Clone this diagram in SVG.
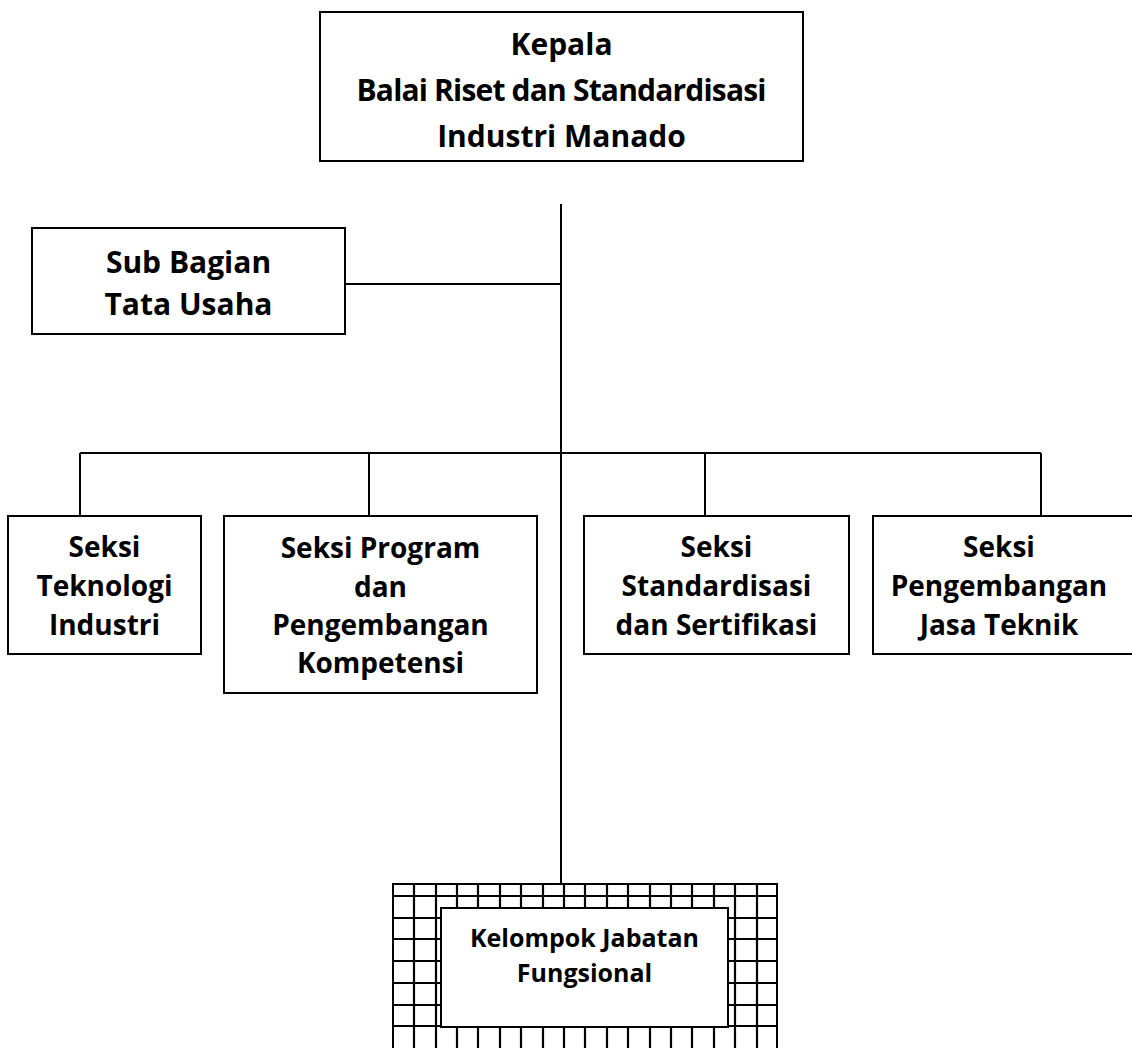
<svg xmlns="http://www.w3.org/2000/svg" width="1132" height="1048" viewBox="0 0 1132 1048">
<style>
.box{fill:#fff;stroke:#000;stroke-width:2}
.conn{fill:none;stroke:#000;stroke-width:2}
.grid{fill:none;stroke:#000;stroke-width:2.2}
text{font-family:"Open Sans","Noto Sans","DejaVu Sans",sans-serif;font-weight:bold;text-anchor:middle;fill:#000}
.t30{font-size:30px}
.t28{font-size:28px}
.t25{font-size:25px}
</style>
<g id="connectors">
<path class="conn" d="M561 204V884"/>
<path class="conn" d="M345 284H561"/>
<path class="conn" d="M80 453H1041"/>
<path class="conn" d="M80 453V516M369 453V516M705 453V516M1041 453V516"/>
</g>
<g id="kepala">
<rect class="box" x="320" y="12" width="483" height="149"/>
<text class="t30" x="561.5" y="55">Kepala</text>
<text class="t30" x="561.5" y="101" textLength="410">Balai Riset dan Standardisasi</text>
<text class="t30" x="561.5" y="147">Industri Manado</text>
</g>
<g id="subbagian">
<rect class="box" x="32" y="228" width="313" height="106"/>
<text class="t30" x="188.5" y="273">Sub Bagian</text>
<text class="t30" x="188.5" y="315">Tata Usaha</text>
</g>
<g id="seksi-teknologi">
<rect class="box" x="8" y="516" width="193" height="138"/>
<text class="t28" x="104.5" y="557">Seksi</text>
<text class="t28" x="104.5" y="596">Teknologi</text>
<text class="t28" x="104.5" y="635">Industri</text>
</g>
<g id="seksi-program">
<rect class="box" x="224" y="516" width="313" height="177"/>
<text class="t28" x="380.5" y="558">Seksi Program</text>
<text class="t28" x="380.5" y="597">dan</text>
<text class="t28" x="380.5" y="635">Pengembangan</text>
<text class="t28" x="380.5" y="673">Kompetensi</text>
</g>
<g id="seksi-standardisasi">
<rect class="box" x="584" y="516" width="265" height="138"/>
<text class="t28" x="716.5" y="557">Seksi</text>
<text class="t28" x="716.5" y="596">Standardisasi</text>
<text class="t28" x="716.5" y="635">dan Sertifikasi</text>
</g>
<g id="seksi-jasa">
<rect class="box" x="873" y="516" width="262" height="138"/>
<text class="t28" x="999" y="557">Seksi</text>
<text class="t28" x="999" y="596">Pengembangan</text>
<text class="t28" x="999" y="635">Jasa Teknik</text>
</g>
<g id="kelompok">
<rect x="393" y="884" width="384" height="170" fill="#fff" stroke="#000" stroke-width="2"/>
<path class="grid" d="M414 884V1048M436 884V1048M457 884V1048M478 884V1048M500 884V1048M521 884V1048M543 884V1048M564 884V1048M585 884V1048M607 884V1048M628 884V1048M650 884V1048M671 884V1048M692 884V1048M714 884V1048M735 884V1048M757 884V1048"/>
<path class="grid" d="M393 896H777M393 918H777M393 939H777M393 961H777M393 983H777M393 1005H777M393 1026H777"/>
<rect class="box" x="441" y="908" width="287" height="119"/>
<text class="t25" x="584.5" y="947">Kelompok Jabatan</text>
<text class="t25" x="584.5" y="982">Fungsional</text>
</g>
</svg>
